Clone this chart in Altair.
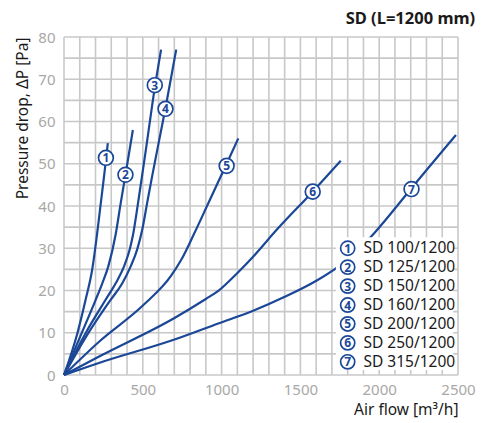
import altair as alt
import pandas as pd

# ---- data ----
series_names = ["SD 100/1200", "SD 125/1200", "SD 150/1200", "SD 160/1200",
                "SD 200/1200", "SD 250/1200", "SD 315/1200"]
flow_1 = [0, 85, 137, 180, 207, 230, 255, 278]
dp_1 = [0, 9.9, 17.8, 25.2, 32.5, 39.6, 47.3, 54.9]
flow_2 = [0, 112, 201, 243, 281, 328, 359, 390, 437]
dp_2 = [0, 9.9, 17.8, 21.7, 25.7, 33.3, 40.5, 47.4, 58]
flow_3 = [0, 137, 264, 328, 381, 419, 437, 469, 526, 576, 616]
dp_3 = [0, 9.9, 17.8, 21.7, 25.7, 30.0, 33.0, 40.5, 55, 68, 77]
flow_4 = [0, 154, 296, 370, 423, 465, 497, 528, 560, 604, 644, 712]
dp_4 = [0, 9.9, 17.8, 21.7, 25.7, 29.8, 34.5, 40.8, 47.2, 55.6, 63.2, 77]
flow_5 = [0, 226, 502, 680, 743, 824, 920, 1032, 1106]
dp_5 = [0, 8.0, 16.5, 23.5, 27.2, 33.3, 41.0, 50.0, 56]
flow_6 = [0, 226, 701, 900, 979, 1099, 1200, 1348, 1578, 1756]
dp_6 = [0, 4.45, 13.5, 18.0, 19.9, 24.1, 28, 34.3, 43.4, 50.7]
flow_7 = [0, 226, 701, 979, 1200, 1401, 1601, 1738, 1942, 2113, 2205, 2487]
dp_7 = [0, 2.9, 8.4, 12.2, 15.2, 18.5, 22.3, 25.6, 32.5, 40.0, 44.2, 56.8]
label_flow = [266, 390, 576, 644, 1032, 1578, 2205]
label_dp = [51.4, 47.4, 68.6, 63.0, 49.5, 43.4, 44.0]

x_ticks = list(range(0, 2501, 500))
y_ticks = list(range(0, 81, 10))
x_grid = list(range(0, 2501, 100))
y_grid = list(range(0, 81, 5))

flows = [flow_1, flow_2, flow_3, flow_4, flow_5, flow_6, flow_7]
dps = [dp_1, dp_2, dp_3, dp_4, dp_5, dp_6, dp_7]

rows = []
for i, (f, d) in enumerate(zip(flows, dps)):
    for a, b in zip(f, d):
        rows.append({"series": series_names[i], "flow": a, "dp": b})
df = pd.DataFrame(rows)

lab = pd.DataFrame({"num": [str(i + 1) for i in range(7)],
                    "flow": label_flow, "dp": label_dp})

# legend rows (in data units)
leg = pd.DataFrame({"num": [str(i + 1) for i in range(7)],
                    "name": series_names,
                    "cx": [1800] * 7,
                    "tx": [1900] * 7,
                    "y": [30 - i * 4.48 for i in range(7)]})
legbox = pd.DataFrame({"x": [1725], "x2": [2470], "y": [1.2], "y2": [32.6]})

BLUE = "#1b4797"
GRID = "#c8c8c8"
FONT = "Noto Sans, sans-serif"

xscale = alt.Scale(domain=[0, 2500], nice=False, zero=True)
yscale = alt.Scale(domain=[0, 80], nice=False)

xax = alt.Axis(values=x_ticks, format="d", title="Air flow [m³/h]",
               titleAnchor="end", grid=False, domain=False, ticks=False,
               labelFlush=False, labelPadding=7, titlePadding=5)
yax = alt.Axis(values=y_ticks, title="Pressure drop, ΔP [Pa]",
               titleAnchor="end", grid=False, domain=False, ticks=False,
               labelFlush=False, labelPadding=9, titlePadding=7)

gx = alt.Chart(pd.DataFrame({"g": x_grid})).mark_rule(
    color=GRID, strokeWidth=1.6).encode(x=alt.X("g:Q", scale=xscale, axis=xax))
gy = alt.Chart(pd.DataFrame({"g": y_grid})).mark_rule(
    color=GRID, strokeWidth=1.6).encode(y=alt.Y("g:Q", scale=yscale, axis=yax))

lines = alt.Chart(df).mark_line(color=BLUE, strokeWidth=2.2,
                                interpolate="monotone").encode(
    x=alt.X("flow:Q", scale=xscale),
    y=alt.Y("dp:Q", scale=yscale),
    detail="series:N",
    order="flow:Q",
)

box = alt.Chart(legbox).mark_rect(fill="white").encode(
    x=alt.X("x:Q", scale=xscale), x2="x2:Q",
    y=alt.Y("y:Q", scale=yscale), y2="y2:Q")

leg_circ = alt.Chart(leg).mark_point(shape="circle", size=200, filled=False,
                                     fill="white", fillOpacity=1,
                                     stroke=BLUE, strokeWidth=1.7, opacity=1).encode(
    x=alt.X("cx:Q", scale=xscale), y=alt.Y("y:Q", scale=yscale))
leg_num = alt.Chart(leg).mark_text(color=BLUE, fontWeight="bold", fontSize=12,
                                   font=FONT, baseline="middle", dy=0.5).encode(
    x=alt.X("cx:Q", scale=xscale), y=alt.Y("y:Q", scale=yscale), text="num:N")
leg_txt = alt.Chart(leg).mark_text(color="#1a1a1a", fontSize=15.5, font=FONT,
                                   align="left", baseline="middle").encode(
    x=alt.X("tx:Q", scale=xscale), y=alt.Y("y:Q", scale=yscale), text="name:N")

lab_circ = alt.Chart(lab).mark_point(shape="circle", size=220, filled=False,
                                     fill="white", fillOpacity=1,
                                     stroke=BLUE, strokeWidth=1.7, opacity=1).encode(
    x=alt.X("flow:Q", scale=xscale), y=alt.Y("dp:Q", scale=yscale))
lab_num = alt.Chart(lab).mark_text(color=BLUE, fontWeight="bold", fontSize=12,
                                   font=FONT, baseline="middle", dy=0.5).encode(
    x=alt.X("flow:Q", scale=xscale), y=alt.Y("dp:Q", scale=yscale), text="num:N")

chart = alt.layer(gx, gy, lines, box, leg_circ, leg_num, leg_txt,
                  lab_circ, lab_num).properties(
    width=394, height=338,
    title=alt.Title("SD (L=1200 mm)", anchor="end", fontSize=16.5,
                    fontWeight="bold", font=FONT, color="#1a1a1a", offset=3),
    autosize=alt.AutoSizeParams(type="none"),
    padding={"left": 56, "top": 29, "right": 25, "bottom": 48},
).configure_view(stroke=None).configure_axis(
    labelColor="#a8a8a8", labelFontSize=15,
    labelFont=FONT, titleFont=FONT, titleFontSize=15.5, titleFontWeight="normal",
    titleColor="#1a1a1a",
)

chart.save("out.html", embed_options={"renderer": "svg", "actions": False})
